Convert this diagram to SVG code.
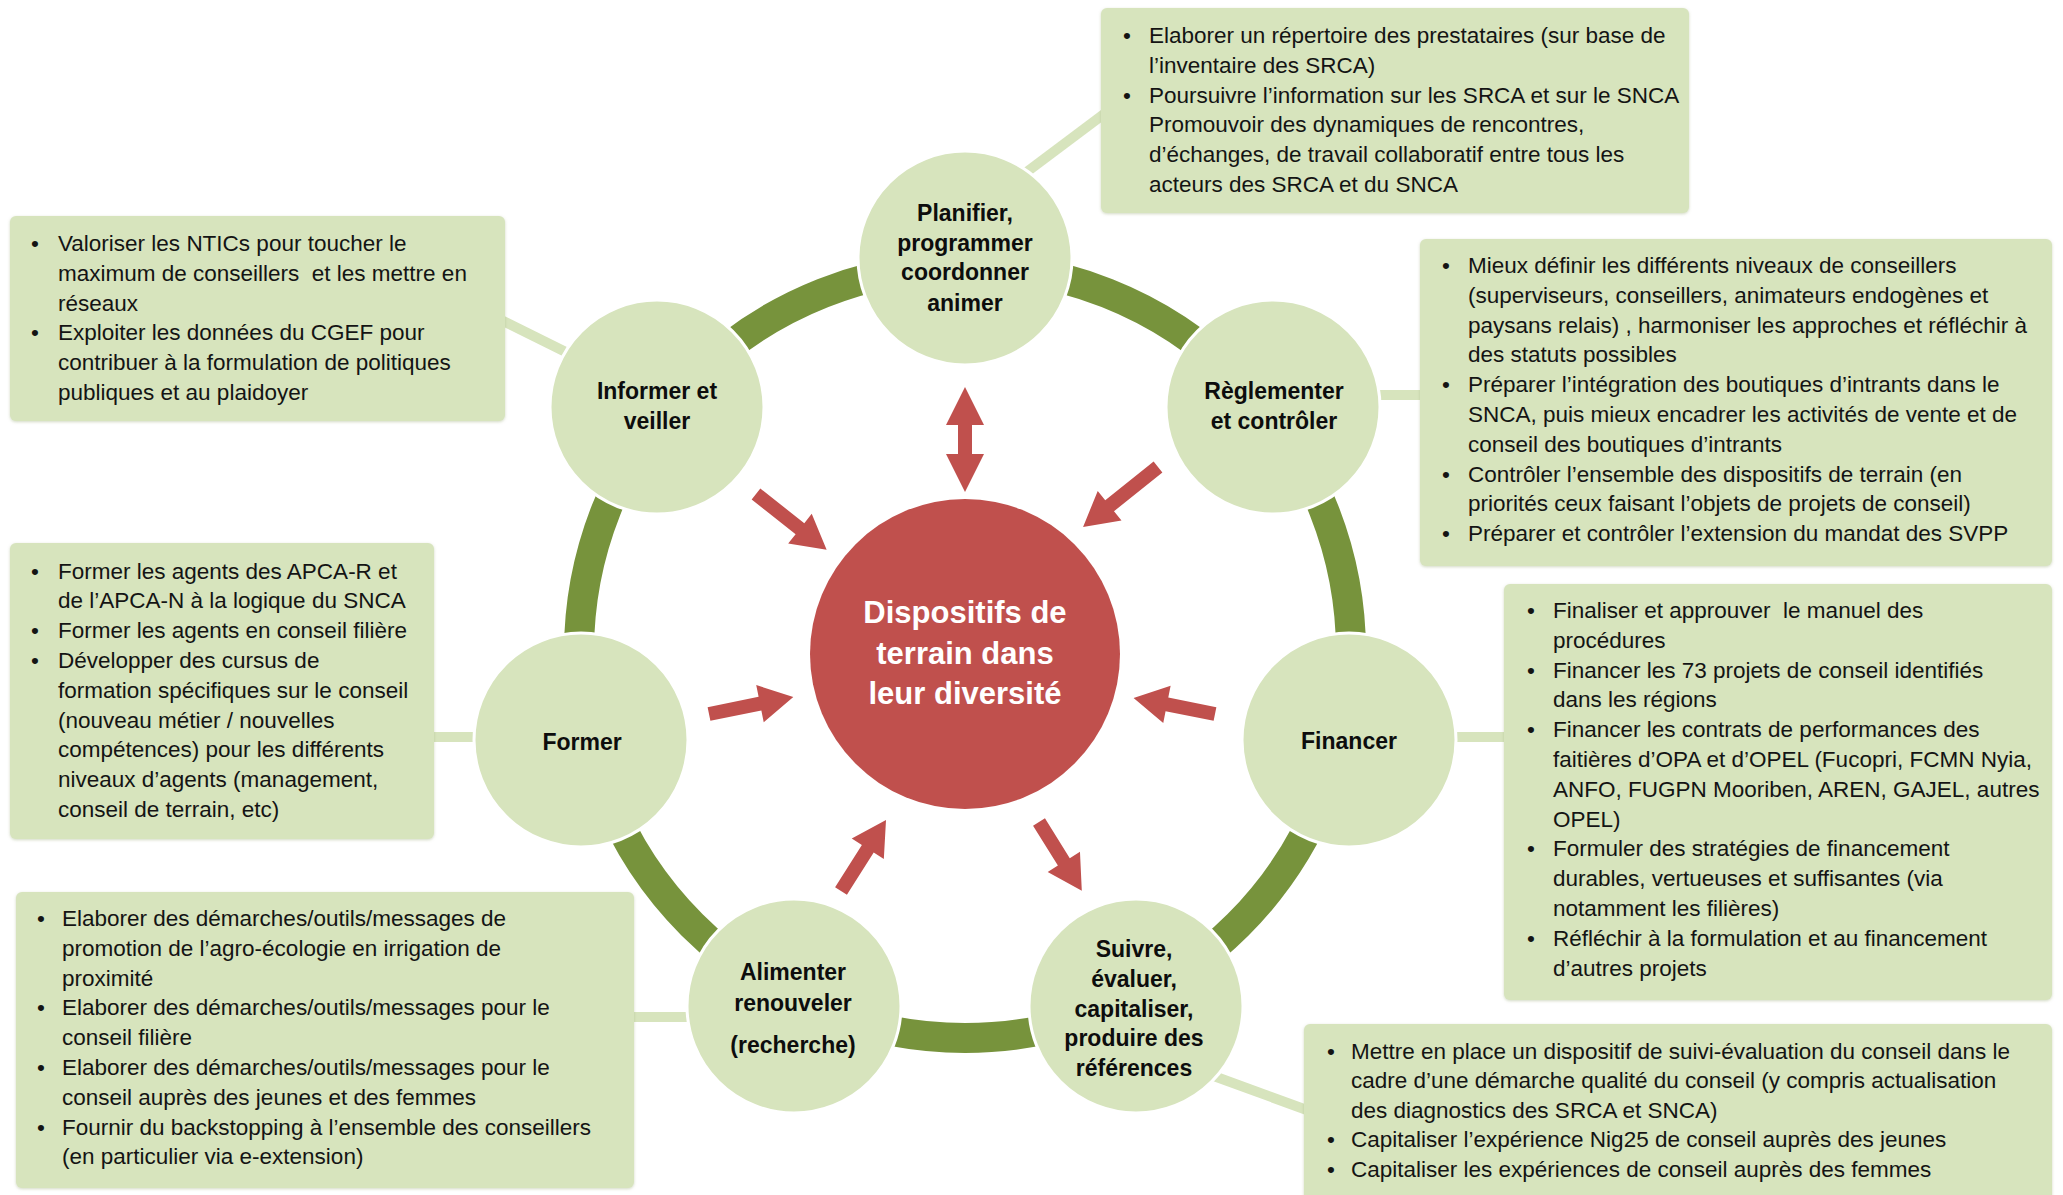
<svg xmlns="http://www.w3.org/2000/svg" width="2063" height="1195" viewBox="0 0 2063 1195">
  <defs>
    <style>
      .box { fill: #D7E4BD; filter: url(#soft); }
      .node { fill: #D7E4BD; stroke: #ffffff; stroke-width: 3; }
      .link { stroke: #D7E4BD; stroke-width: 10; fill: none; }
      .ring { stroke: #77933C; stroke-width: 30; fill: none; }
      .arrow { fill: #C0504D; }
      .bt { font-family: "Liberation Sans", Arial, sans-serif; font-size: 22.5px; fill: #141414; }
      .nl { font-family: "Liberation Sans", Arial, sans-serif; font-size: 23px; font-weight: bold; fill: #0d0d0d; text-anchor: middle; }
      .ct { font-family: "Liberation Sans", Arial, sans-serif; font-size: 31px; font-weight: bold; fill: #ffffff; text-anchor: middle; }
    </style>
    <filter id="soft" x="-5%" y="-5%" width="110%" height="110%">
      <feDropShadow dx="0" dy="1" stdDeviation="1.5" flood-color="#9aab78" flood-opacity="0.45"/>
    </filter>
  </defs>
  <rect width="2063" height="1195" fill="#ffffff"/>

  <!-- outer ring linking the seven functions -->
  <circle class="ring" cx="965" cy="652" r="386"/>

  <!-- connectors from each function to its list of actions -->
  <g id="connectors">
    <line class="link" x1="1000" y1="192" x2="1112" y2="108"/>
    <line class="link" x1="495" y1="317" x2="600" y2="369"/>
    <line class="link" x1="1370" y1="395" x2="1430" y2="395"/>
    <line class="link" x1="1440" y1="737" x2="1515" y2="737"/>
    <line class="link" x1="425" y1="737" x2="490" y2="737"/>
    <line class="link" x1="625" y1="1017" x2="700" y2="1017"/>
    <line class="link" x1="1200" y1="1071" x2="1315" y2="1113"/>
  </g>

  <!-- red arrows between the functions and the centre -->
  <g id="arrows">
    <polygon class="arrow" points="965,387 984,425 972,425 972,454 984,454 965,492 946,454 958,454 958,425 946,425"/>
    <polygon class="arrow" transform="translate(756,494) rotate(38.3)" points="0,-7 56,-7 56,-19 90,0 56,19 56,7 0,7"/>
    <polygon class="arrow" transform="translate(1158,467) rotate(141.3)" points="0,-7 62,-7 62,-19 96,0 62,19 62,7 0,7"/>
    <polygon class="arrow" transform="translate(709,714) rotate(-11.4)" points="0,-7 52,-7 52,-19 86,0 52,19 52,7 0,7"/>
    <polygon class="arrow" transform="translate(1215,714) rotate(191.2)" points="0,-7 49,-7 49,-19 83,0 49,19 49,7 0,7"/>
    <polygon class="arrow" transform="translate(841,891) rotate(-57.6)" points="0,-7 50,-7 50,-19 84,0 50,19 50,7 0,7"/>
    <polygon class="arrow" transform="translate(1039,822) rotate(58.1)" points="0,-7 47,-7 47,-19 81,0 47,19 47,7 0,7"/>
  </g>

  <!-- centre -->
  <g id="center">
    <circle cx="965" cy="654" r="155" fill="#C0504D"/>
    <text class="ct"><tspan x="965" y="623">Dispositifs de</tspan><tspan x="965" y="664">terrain dans</tspan><tspan x="965" y="704">leur diversité</tspan></text>
  </g>

  <!-- function nodes -->
  <g id="node-planifier">
    <circle class="node" cx="965" cy="258" r="107"/>
    <text class="nl"><tspan x="965" y="221">Planifier,</tspan><tspan x="965" y="251">programmer</tspan><tspan x="965" y="280">coordonner</tspan><tspan x="965" y="311">animer</tspan></text>
  </g>
  <g id="node-reglementer">
    <circle class="node" cx="1273" cy="407" r="107"/>
    <text class="nl"><tspan x="1274" y="399">Règlementer</tspan><tspan x="1274" y="429">et contrôler</tspan></text>
  </g>
  <g id="node-financer">
    <circle class="node" cx="1349" cy="740" r="107"/>
    <text class="nl"><tspan x="1349" y="749">Financer</tspan></text>
  </g>
  <g id="node-suivre">
    <circle class="node" cx="1136" cy="1006" r="107"/>
    <text class="nl"><tspan x="1134" y="957">Suivre,</tspan><tspan x="1134" y="987">évaluer,</tspan><tspan x="1134" y="1017">capitaliser,</tspan><tspan x="1134" y="1046">produire des</tspan><tspan x="1134" y="1076">références</tspan></text>
  </g>
  <g id="node-alimenter">
    <circle class="node" cx="794" cy="1006" r="107"/>
    <text class="nl"><tspan x="793" y="980">Alimenter</tspan><tspan x="793" y="1011">renouveler</tspan><tspan x="793" y="1053">(recherche)</tspan></text>
  </g>
  <g id="node-former">
    <circle class="node" cx="581" cy="740" r="107"/>
    <text class="nl"><tspan x="582" y="750">Former</tspan></text>
  </g>
  <g id="node-informer">
    <circle class="node" cx="657" cy="407" r="107"/>
    <text class="nl"><tspan x="657" y="399">Informer et</tspan><tspan x="657" y="429">veiller</tspan></text>
  </g>

  <!-- action lists -->
  <g id="box-planifier">
    <rect class="box" x="1101" y="8" width="588" height="205" rx="6"/>
    <text class="bt"><tspan x="1123" y="43">•</tspan><tspan x="1123" y="102.6">•</tspan></text>
    <text class="bt">
      <tspan x="1149" y="43">Elaborer un répertoire des prestataires (sur base de</tspan>
      <tspan x="1149" y="72.8">l’inventaire des SRCA)</tspan>
      <tspan x="1149" y="102.6">Poursuivre l’information sur les SRCA et sur le SNCA</tspan>
      <tspan x="1149" y="132.4">Promouvoir des dynamiques de rencontres,</tspan>
      <tspan x="1149" y="162.2">d’échanges, de travail collaboratif entre tous les</tspan>
      <tspan x="1149" y="192">acteurs des SRCA et du SNCA</tspan>
    </text>
  </g>

  <g id="box-informer">
    <rect class="box" x="10" y="216" width="495" height="205" rx="6"/>
    <text class="bt"><tspan x="31" y="251">•</tspan><tspan x="31" y="340.4">•</tspan></text>
    <text class="bt">
      <tspan x="58" y="251">Valoriser les NTICs pour toucher le</tspan>
      <tspan x="58" y="280.8">maximum de conseillers&#160; et les mettre en</tspan>
      <tspan x="58" y="310.6">réseaux</tspan>
      <tspan x="58" y="340.4">Exploiter les données du CGEF pour</tspan>
      <tspan x="58" y="370.2">contribuer à la formulation de politiques</tspan>
      <tspan x="58" y="400">publiques et au plaidoyer</tspan>
    </text>
  </g>

  <g id="box-reglementer">
    <rect class="box" x="1420" y="239" width="632" height="327" rx="6"/>
    <text class="bt"><tspan x="1442" y="273">•</tspan><tspan x="1442" y="392.2">•</tspan><tspan x="1442" y="481.6">•</tspan><tspan x="1442" y="541.2">•</tspan></text>
    <text class="bt">
      <tspan x="1468" y="273">Mieux définir les différents niveaux de conseillers</tspan>
      <tspan x="1468" y="302.8">(superviseurs, conseillers, animateurs endogènes et</tspan>
      <tspan x="1468" y="332.6">paysans relais) , harmoniser les approches et réfléchir à</tspan>
      <tspan x="1468" y="362.4">des statuts possibles</tspan>
      <tspan x="1468" y="392.2">Préparer l’intégration des boutiques d’intrants dans le</tspan>
      <tspan x="1468" y="422">SNCA, puis mieux encadrer les activités de vente et de</tspan>
      <tspan x="1468" y="451.8">conseil des boutiques d’intrants</tspan>
      <tspan x="1468" y="481.6">Contrôler l’ensemble des dispositifs de terrain (en</tspan>
      <tspan x="1468" y="511.4">priorités ceux faisant l’objets de projets de conseil)</tspan>
      <tspan x="1468" y="541.2">Préparer et contrôler l’extension du mandat des SVPP</tspan>
    </text>
  </g>

  <g id="box-former">
    <rect class="box" x="10" y="543" width="424" height="296" rx="6"/>
    <text class="bt"><tspan x="31" y="578.5">•</tspan><tspan x="31" y="638.1">•</tspan><tspan x="31" y="667.9">•</tspan></text>
    <text class="bt">
      <tspan x="58" y="578.5">Former les agents des APCA-R et</tspan>
      <tspan x="58" y="608.3">de l’APCA-N à la logique du SNCA</tspan>
      <tspan x="58" y="638.1">Former les agents en conseil filière</tspan>
      <tspan x="58" y="667.9">Développer des cursus de</tspan>
      <tspan x="58" y="697.7">formation spécifiques sur le conseil</tspan>
      <tspan x="58" y="727.5">(nouveau métier / nouvelles</tspan>
      <tspan x="58" y="757.3">compétences) pour les différents</tspan>
      <tspan x="58" y="787.1">niveaux d’agents (management,</tspan>
      <tspan x="58" y="816.9">conseil de terrain, etc)</tspan>
    </text>
  </g>

  <g id="box-financer">
    <rect class="box" x="1504" y="584" width="548" height="416" rx="6"/>
    <text class="bt"><tspan x="1527" y="618">•</tspan><tspan x="1527" y="677.6">•</tspan><tspan x="1527" y="737.2">•</tspan><tspan x="1527" y="856.4">•</tspan><tspan x="1527" y="945.8">•</tspan></text>
    <text class="bt">
      <tspan x="1553" y="618">Finaliser et approuver&#160; le manuel des</tspan>
      <tspan x="1553" y="647.8">procédures</tspan>
      <tspan x="1553" y="677.6">Financer les 73 projets de conseil identifiés</tspan>
      <tspan x="1553" y="707.4">dans les régions</tspan>
      <tspan x="1553" y="737.2">Financer les contrats de performances des</tspan>
      <tspan x="1553" y="767">faitières d’OPA et d’OPEL (Fucopri, FCMN Nyia,</tspan>
      <tspan x="1553" y="796.8">ANFO, FUGPN Mooriben, AREN, GAJEL, autres</tspan>
      <tspan x="1553" y="826.6">OPEL)</tspan>
      <tspan x="1553" y="856.4">Formuler des stratégies de financement</tspan>
      <tspan x="1553" y="886.2">durables, vertueuses et suffisantes (via</tspan>
      <tspan x="1553" y="916">notamment les filières)</tspan>
      <tspan x="1553" y="945.8">Réfléchir à la formulation et au financement</tspan>
      <tspan x="1553" y="975.6">d’autres projets</tspan>
    </text>
  </g>

  <g id="box-alimenter">
    <rect class="box" x="16" y="892" width="618" height="296" rx="6"/>
    <text class="bt"><tspan x="37" y="926">•</tspan><tspan x="37" y="1015.4">•</tspan><tspan x="37" y="1075">•</tspan><tspan x="37" y="1134.6">•</tspan></text>
    <text class="bt">
      <tspan x="62" y="926">Elaborer des démarches/outils/messages de</tspan>
      <tspan x="62" y="955.8">promotion de l’agro-écologie en irrigation de</tspan>
      <tspan x="62" y="985.6">proximité</tspan>
      <tspan x="62" y="1015.4">Elaborer des démarches/outils/messages pour le</tspan>
      <tspan x="62" y="1045.2">conseil filière</tspan>
      <tspan x="62" y="1075">Elaborer des démarches/outils/messages pour le</tspan>
      <tspan x="62" y="1104.8">conseil auprès des jeunes et des femmes</tspan>
      <tspan x="62" y="1134.6">Fournir du backstopping à l’ensemble des conseillers</tspan>
      <tspan x="62" y="1164.4">(en particulier via e-extension)</tspan>
    </text>
  </g>

  <g id="box-suivre">
    <rect class="box" x="1304" y="1024" width="748" height="185" rx="6"/>
    <text class="bt"><tspan x="1327" y="1059">•</tspan><tspan x="1327" y="1147.4">•</tspan><tspan x="1327" y="1177.2">•</tspan></text>
    <text class="bt">
      <tspan x="1351" y="1059">Mettre en place un dispositif de suivi-évaluation du conseil dans le</tspan>
      <tspan x="1351" y="1088.4">cadre d’une démarche qualité du conseil (y compris actualisation</tspan>
      <tspan x="1351" y="1117.8">des diagnostics des SRCA et SNCA)</tspan>
      <tspan x="1351" y="1147.4">Capitaliser l’expérience Nig25 de conseil auprès des jeunes</tspan>
      <tspan x="1351" y="1177.2">Capitaliser les expériences de conseil auprès des femmes</tspan>
    </text>
  </g>
</svg>
